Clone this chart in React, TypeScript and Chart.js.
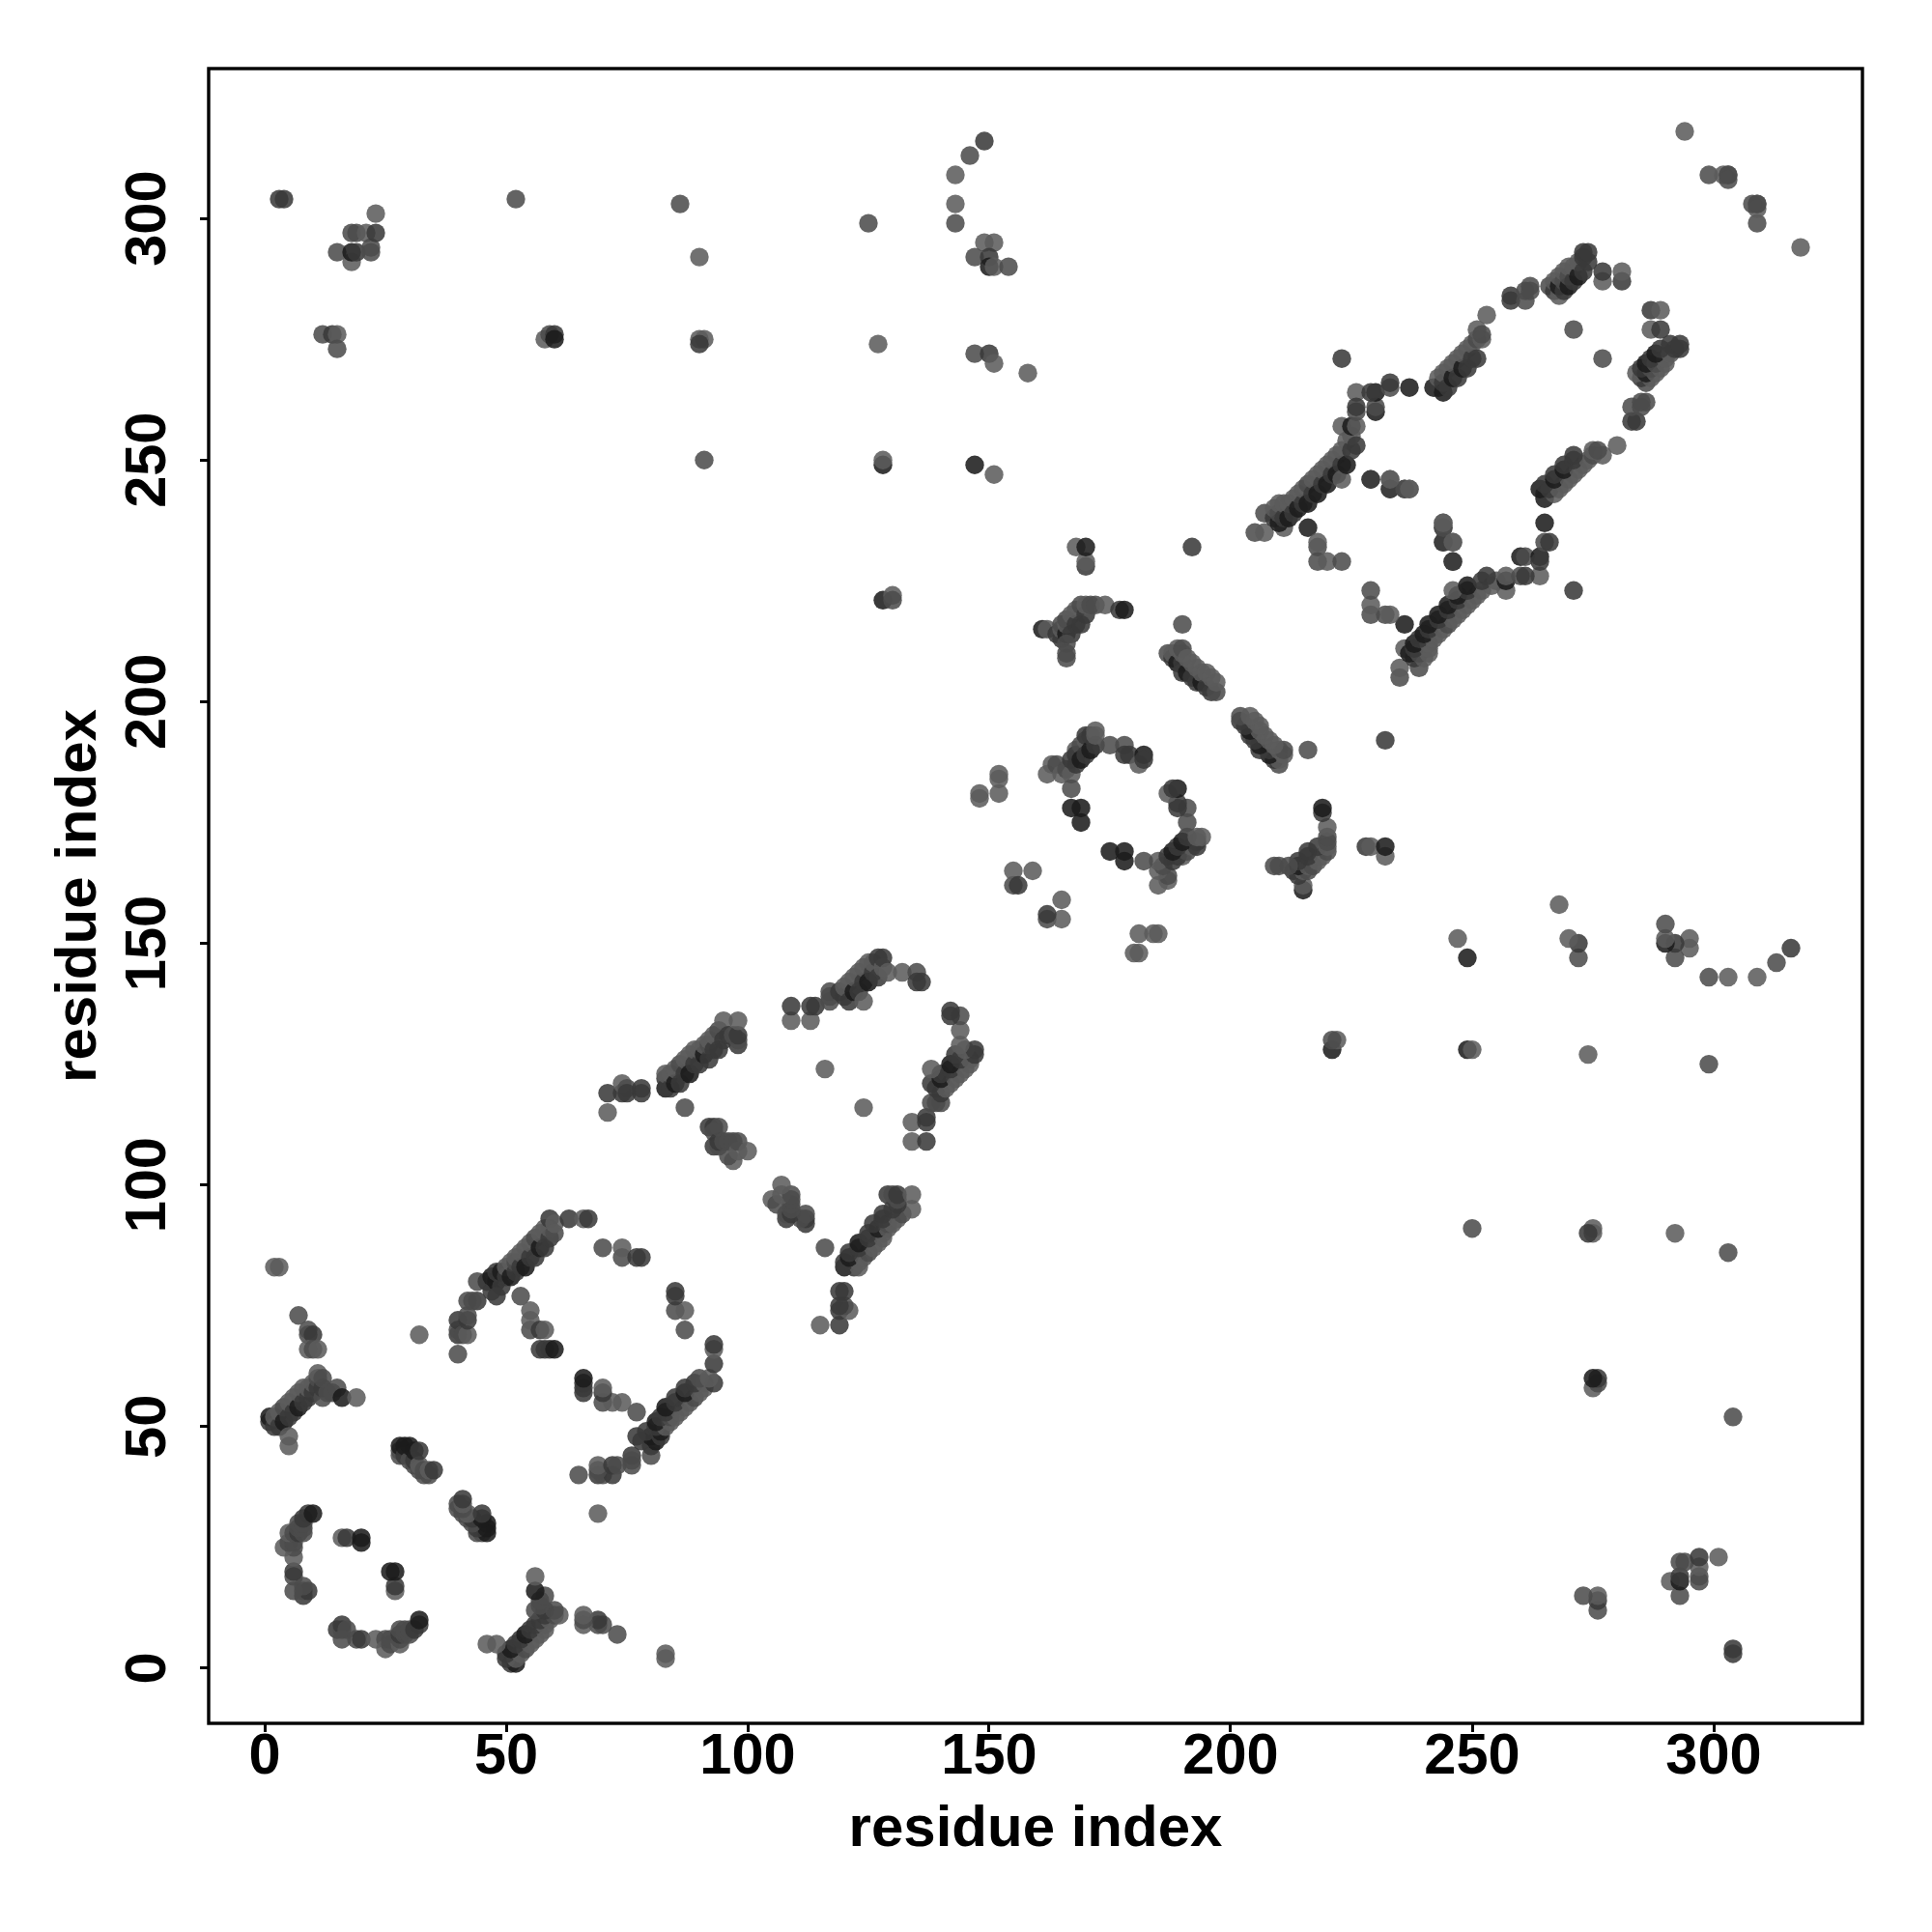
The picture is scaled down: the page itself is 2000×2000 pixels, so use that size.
import React, { useEffect, useRef } from "react";
import { Chart, registerables } from "chart.js";

Chart.register(...registerables);

// [i, j, level]: contact between residues i and j (i < j). The map is symmetric.
// level: undefined = typical, 0 = weak, 1 = medium-strong, 2 = strong
type Contact = number[];

const nTerminalTurn: Contact[] = [
  [8,15,1],[8,16],[9,16,1],[8,17],[6,16],[6,19],[6,20,1],[6,23,0],[6,25],[4,25,0],[5,26],[6,26],[5,28,0],[6,28],[7,28,1],
  [8,28],[7,29],[8,29],[7,30],[8,30],[8,31,1],[9,32,1],[10,32,2],[16,27,0],[17,27,1],[20,26,2],[20,27,2],
];
const strandOne: Contact[] = [
  [1,51,1],[1,52,2],[2,50,1],[2,52,0],[3,50,1],[3,53,0],[4,51,2],[4,54],[5,52,1],[5,55,0],[6,53,1],[6,56,0],[7,54,2],[7,57,0],
  [8,55,1],[8,58,0],[9,56,1],[9,58,0],[10,57,1],[10,59,0],[11,58,1],[11,60],[11,61,0],[12,56],[12,58,1],[12,60],[13,57],
  [14,57],[15,58],[16,56,2],[19,56,0],[5,46,0],[5,48,0],[7,73],[9,69],[9,70],[10,69,1],[9,66,0],[10,66],[11,66,0],[2,83,0],[3,83,0],
];
const hairpinOne: Contact[] = [
  [28,44],[28,45],[28,46,2],[29,44,1],[29,46,2],[30,43],[30,46,2],[31,42],[31,43,1],[31,45,2],[32,41],[32,42,0],[32,45,1],
  [33,40],[33,41],[34,40],[34,41,0],[35,41,1],[32,69,0],
];
const helixArcOne: Contact[] = [
  [40,65],[40,69,1],[40,70],[40,72,1],[41,69],[42,69,0],[42,72,1],[42,73],[42,76],[44,76,1],[44,80],[43,76],
  [46,80,1],[47,78,1],[47,81,2],[48,80,2],[48,82,1],[49,79,1],[49,82,2],[50,81,1],[50,83,0],[51,81,2],[51,84,0],[52,82,1],[52,84],
  [52,85,0],[53,83,1],[53,86,0],[54,83,2],[54,87,0],[55,85,1],[55,88,0],[56,85,1],[56,89],[57,87,2],[57,90,0],[58,87,1],[58,91,0],
  [59,89,1],[59,91,0],[59,93,1],[60,90],[60,92,0],[63,93,1],[66,93,0],[67,93,1],[48,77,1],[53,77],[55,70],[55,72,0],[55,74,0],[57,66,1],
  [57,70,1],[58,66,1],[58,70,0],[59,66,1],[60,66,2],[70,87],[74,85],[74,87,0],[77,85,1],[78,85,1],
];
const helixReturn: Contact[] = [
  [71,115,0],[71,119,1],[74,119,1],[74,121,0],[75,120],[75,119,1],[78,119,1],[78,120,1],[87,116],
  [83,120,2],[83,122,1],[83,123,0],[84,120,1],[84,123,0],[85,121,2],[85,124,0],[86,121,1],[86,125],[87,123,1],[87,126,0],[88,123,2],
  [88,127,0],[89,125,1],[89,128,0],[90,125,1],[90,128,0],[91,127,2],[91,129,0],[92,126,1],[92,129],[92,130,0],[93,128,1],[93,131,0],
  [94,128,1],[94,132],[95,130,1],[95,134,0],[96,131,1],[97,131],[98,129,1],[98,130],[98,131,1],[98,134,0],
];
const hairpinTwo: Contact[] = [
  [92,112,1],[93,112,1],[93,111],[93,108,1],[94,108],[94,109,1],[94,112],[95,109],[96,109],[97,109],[97,105,0],[96,106],
  [98,107,0],[98,109],[100,107,0],
];
const helixArcTwo: Contact[] = [
  [109,134,0],[109,137,1],[113,134,0],[113,137,1],[114,137,1],[117,138],[117,139],[117,140],[116,124,0],[119,140,1],[120,139,1],
  [120,141,0],[121,138,1],[121,142,0],[122,140,2],[122,143,0],[123,140,1],[123,144,0],[124,138,0],[124,142,1],[124,145,0],[125,142,2],
  [125,146,0],[126,144,1],[126,146,0],[127,143,1],[127,147,1],[128,145,0],[128,147,1],[129,144,0],[132,144,0],[135,144],[135,142,1],[136,142,1],
];
const shortTurns: Contact[] = [
  [148,180,0],[148,181,0],[152,181,0],[152,184,0],[152,185,0],[155,162],[155,165,0],[156,162,1],[159,165,0],
];
const helixArcThree: Contact[] = [
  [161,215,2],[162,215,0],[164,214,1],[165,213,1],[165,215,0],[165,216],[166,214,2],[166,216,0],[166,217],[167,214,1],[167,218,0],[168,216,1],
  [168,219,0],[169,216,1],[169,220],[170,218,1],[170,220,0],[171,220],[172,220],[174,220,0],[177,219,1],[178,219,2],[166,212],
  [166,210],[166,209],[162,185,0],[163,187,0],[164,187],[165,185,0],[166,186],[167,185,0],[167,188,1],[167,182],[167,178,2],
  [168,187,1],[168,190,0],[168,189,1],[169,178,2],[169,175,2],[169,191],[169,188,2],[170,192,0],[170,189,1],[170,193,1],[171,190,2],
  [171,193,1],[172,194,0],[172,191,1],[172,193,0],[175,191],[178,191],[178,189,1],[179,189,1],[181,187,0],[182,189,2],[182,188,1],
  [170,228,1],[170,229,0],[168,232,0],[170,232,2],[192,232,1],[190,216],
];
const hairpinThree: Contact[] = [
  [187,210],[188,209,1],[188,210,0],[189,208,2],[189,211,0],[190,206,1],[190,208,1],[190,210,0],[190,211],[191,206,2],[191,209,0],[192,205,1],
  [192,208,0],[193,204,1],[193,207,0],[194,204,2],[194,206,0],[195,203,1],[195,206,0],[196,202,1],[196,205,0],[197,202],[197,204,0],
];
const sheetLeft: Contact[] = [
  [205,235],[207,235,0],[207,239],[211,236,0],[216,236,2],[218,232],[218,233,0],[218,229],[220,229,0],[223,229],[229,246,1],
  [233,244],[233,246,0],[236,244,1],[237,244,0],[244,233,1],[244,236],[244,237,0],[246,233,0],[246,229,1],[223,271,1],
  [209,238,1],[209,240,0],[210,237,2],[210,239],[210,241,0],[211,238,1],[211,241,0],[212,238,2],[212,241,0],[213,239,1],[213,242,0],[214,240,2],
  [214,243,0],[215,241,1],[215,244,0],[216,241,2],[216,245],[217,243,1],[217,246,0],[218,243,2],[218,247,0],[219,245,1],[219,248,0],[220,245,2],
  [220,249,0],[221,247,1],[221,250,0],[222,247,2],[222,251,0],[223,249,1],[223,252,0],[223,246,0],[223,257,0],[224,249,2],[224,254,0],[225,252,1],
  [225,255,0],[225,257,2],[226,253,1],[226,257,0],[226,260],[226,264,0],[226,261,1],[230,260,2],[230,261],[230,264,2],[229,264,1],[233,265],
  [233,266,1],[237,265,2],
];
const sheetRight: Contact[] = [
  [242,265,2],[243,265,1],[243,267,0],[244,264,2],[244,266,1],[244,268,0],[245,265,1],[245,269,0],[246,267,2],[246,270,0],[247,267,1],[247,271,0],
  [248,269,2],[248,272,0],[249,269,1],[249,273,0],[250,271,1],[250,274,0],[251,271,1],[251,275],[251,277,0],[252,275,0],[252,276],[253,280,0],
  [258,284,1],[258,283,1],[261,283],[261,285],[262,286],[262,285],[266,286],[267,285,1],[267,287,0],[268,284,0],[268,286,2],[268,288,0],
  [269,285,1],[269,287],[269,289,0],[270,286,2],[270,288],[270,290,0],[271,287,1],[271,290,0],[272,288,2],[272,291,0],[273,289,1],[273,292,1],
  [273,293,1],[274,291,1],[274,293,1],[277,287,0],[277,289,1],[281,287,1],[281,289,0],[271,277],
];
const longRangeNear: Contact[] = [
  [3,304,1],[4,304,1],[15,293],[18,291,0],[18,293,2],[19,293,1],[18,297],[19,297],[21,297,0],[22,293],[22,294],[23,297,1],
  [23,301,0],[12,276],[14,276,1],[15,276,0],[15,273],[52,304],[58,275,0],[59,276],[60,276,1],[60,275,2],[90,275,0],[91,275,0],
  [90,274,1],[86,303],[90,292,0],[91,250],
];
const longRangeFar: Contact[] = [
  [125,299],[143,299],[143,303,0],[143,309,0],[146,313],[149,316,1],[149,295,0],[151,295,0],[147,292],[150,292,1],[150,290,2],
  [151,290,0],[154,290],[127,274,0],[147,272],[150,272,1],[151,270,0],[158,268,0],[128,249,2],[128,250,0],[147,249,2],[151,247,0],
  [128,221,2],[130,222,0],[130,221],
  [294,318,0],[299,309],[302,309,0],[303,309],[303,308],[309,303],
];

const allContacts: Contact[] = [
  ...nTerminalTurn, ...strandOne, ...hairpinOne, ...helixArcOne, ...helixReturn, ...hairpinTwo, ...helixArcTwo,
  ...shortTurns, ...helixArcThree, ...hairpinThree, ...sheetLeft, ...sheetRight, ...longRangeNear, ...longRangeFar,
];

const tickValues = [0, 50, 100, 150, 200, 250, 300];
const axisTitle = "residue index";
const shade = (level?: number) =>
  level === 0 ? "rgba(92,92,92,0.87)"
  : level === 1 ? "rgba(58,58,58,0.87)"
  : level === 2 ? "rgba(28,28,28,0.87)"
  : "rgba(76,76,76,0.87)";

const fontFamily = '"Liberation Sans", Arial, sans-serif';

export default function App() {
  const ref = useRef<HTMLCanvasElement | null>(null);
  useEffect(() => {
    const points: { x: number; y: number }[] = [];
    const colors: string[] = [];
    for (const [i, j, level] of allContacts) {
      points.push({ x: i, y: j });
      colors.push(shade(level));
      points.push({ x: j, y: i });
      colors.push(shade(level));
    }
    const tickFont = { family: fontFamily, size: 59.5, weight: "bold" as const };
    const titleFont = { family: fontFamily, size: 60, weight: "bold" as const };
    const boxPlugin = {
      id: "box",
      afterDraw(c: Chart) {
        const a = c.chartArea;
        const ctx = c.ctx;
        ctx.save();
        ctx.strokeStyle = "#000";
        ctx.lineWidth = 3.4;
        ctx.strokeRect(a.left, a.top, a.right - a.left, a.bottom - a.top);
        ctx.restore();
      },
    };
    const chart = new Chart(ref.current!, {
      type: "scatter",
      data: {
        datasets: [
          {
            data: points,
            backgroundColor: colors,
            borderWidth: 0,
            pointRadius: 9.7,
            pointHoverRadius: 9.7,
          },
        ],
      },
      plugins: [boxPlugin],
      options: {
        animation: false,
        responsive: false,
        layout: { padding: { left: 0, right: 72, top: 71, bottom: 0 } },
        plugins: { legend: { display: false }, tooltip: { enabled: false } },
        scales: {
          x: {
            type: "linear",
            min: -11.6,
            max: 330.8,
            afterBuildTicks: (s: any) => { s.ticks = tickValues.map((value) => ({ value })); },
            afterFit: (s: any) => { s.height = 216; },
            grid: { display: true, drawTicks: true, tickLength: 9, tickWidth: 3, tickColor: "#000", drawOnChartArea: false },
            border: { display: false },
            ticks: { color: "#000", font: tickFont, padding: -9, maxRotation: 0, minRotation: 0, autoSkip: false },
            title: { display: true, text: axisTitle, color: "#000", font: titleFont, padding: { top: 0, bottom: 70 } },
          },
          y: {
            type: "linear",
            min: -11.4,
            max: 331,
            afterBuildTicks: (s: any) => { s.ticks = tickValues.map((value) => ({ value })); },
            afterFit: (s: any) => { s.width = 216; },
            grid: { display: true, drawTicks: true, tickLength: 9, tickWidth: 3, tickColor: "#000", drawOnChartArea: false },
            border: { display: false },
            ticks: { color: "#000", font: tickFont, padding: 3, minRotation: 90, maxRotation: 90, crossAlign: "center", autoSkip: false },
            title: { display: true, text: axisTitle, color: "#000", font: titleFont, padding: { top: 46, bottom: 0 } },
          },
        },
      },
    } as any);
    return () => chart.destroy();
  }, []);
  return (
    <div style={{ position: "absolute", left: 0, top: 0, width: 2000, height: 2000 }}>
      <canvas ref={ref} width={2000} height={2000} style={{ display: "block" }} />
    </div>
  );
}
